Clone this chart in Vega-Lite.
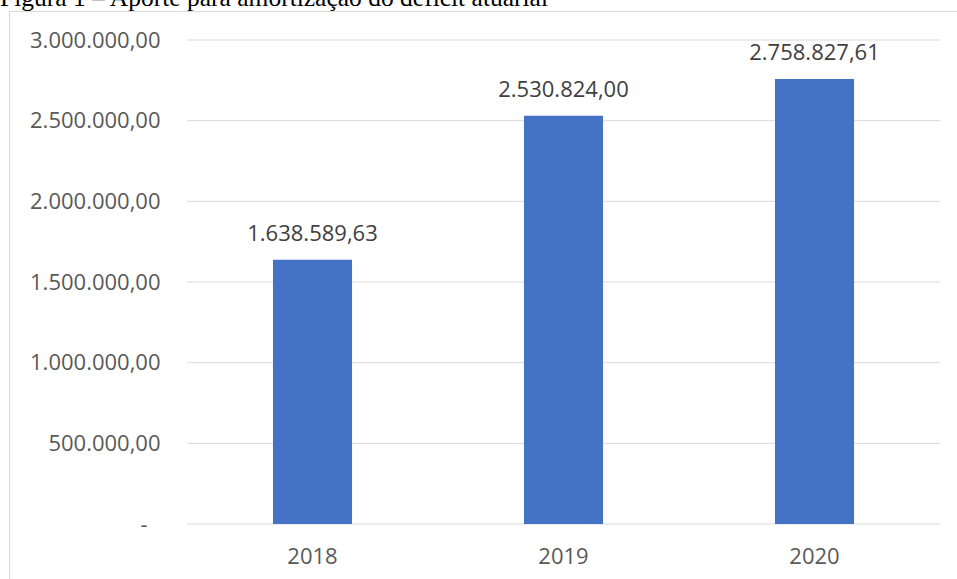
{
  "$schema": "https://vega.github.io/schema/vega-lite/v6.json",
  "width": 948,
  "height": 568,
  "autosize": {"type": "none"},
  "padding": {"left": 9, "top": 11, "right": 0, "bottom": 0},
  "background": "white",
  "title": {
    "text": "Figura 1 – Aporte para amortização do déficit atuarial",
    "font": "Liberation Serif",
    "fontSize": 25.5,
    "fontWeight": "normal",
    "color": "#000000",
    "anchor": "start",
    "frame": "group",
    "dx": -9,
    "baseline": "alphabetic",
    "offset": -20
  },
  "config": {
    "view": {"stroke": "#d9d9d9", "strokeWidth": 1},
    "locale": {
      "number": {"decimal": ",", "thousands": ".", "grouping": [3], "currency": ["R$ ", ""]}
    }
  },
  "datasets": {
    "aporte": [
      {"ano": "2018", "valor": 1638589.63},
      {"ano": "2019", "valor": 2530824.00},
      {"ano": "2020", "valor": 2758827.61}
    ],
    "grade": [
      {"v": 0}, {"v": 500000}, {"v": 1000000}, {"v": 1500000},
      {"v": 2000000}, {"v": 2500000}, {"v": 3000000}
    ]
  },
  "layer": [
    {
      "data": {"name": "grade"},
      "mark": {"type": "rule", "color": "#d9d9d9", "strokeWidth": 1},
      "encoding": {
        "y": {
          "field": "v", "type": "quantitative",
          "scale": {"domain": [0, 3000000], "range": [513, 29], "nice": false, "zero": true},
          "axis": {
            "orient": "left", "offset": -169, "ticks": false, "tickSize": 0, "domain": false, "grid": false,
            "labelPadding": 18, "labelFont": "Open Sans", "labelFontSize": 22, "labelColor": "#595959",
            "values": [500000, 1000000, 1500000, 2000000, 2500000, 3000000],
            "format": ",.2f",
            "title": null
          }
        },
        "x": {"datum": 0, "type": "quantitative", "scale": {"domain": [0, 1], "range": [178, 931]}, "axis": null},
        "x2": {"datum": 1}
      }
    },
    {
      "data": {"name": "aporte"},
      "layer": [
        {
          "mark": {"type": "bar", "color": "#4472C4"},
          "encoding": {
            "x": {
              "field": "ano", "type": "nominal",
              "scale": {"range": [178, 931], "paddingInner": 0.685, "paddingOuter": 0.3425},
              "axis": {
                "orient": "bottom", "offset": -55, "ticks": false, "tickSize": 0, "domain": false, "grid": false,
                "labelPadding": 22, "labelAngle": 0, "labelFont": "Open Sans", "labelFontSize": 22,
                "labelColor": "#595959", "title": null
              }
            },
            "y": {
              "field": "valor", "type": "quantitative",
              "axis": {
                "orient": "left", "offset": -169, "ticks": false, "tickSize": 0, "domain": false, "grid": false,
                "labelPadding": 31, "labelFont": "Open Sans", "labelFontSize": 22, "labelColor": "#595959",
                "values": [0],
                "labelExpr": "'-'",
                "title": null
              }
            }
          }
        },
        {
          "mark": {"type": "text", "font": "Open Sans", "fontSize": 22, "color": "#404040", "baseline": "alphabetic", "dy": -19},
          "encoding": {
            "x": {"field": "ano", "type": "nominal"},
            "y": {"field": "valor", "type": "quantitative"},
            "text": {"field": "valor", "type": "quantitative", "format": ",.2f"}
          }
        }
      ]
    }
  ],
  "resolve": {"scale": {"x": "independent"}, "axis": {"x": "independent", "y": "independent"}}
}
